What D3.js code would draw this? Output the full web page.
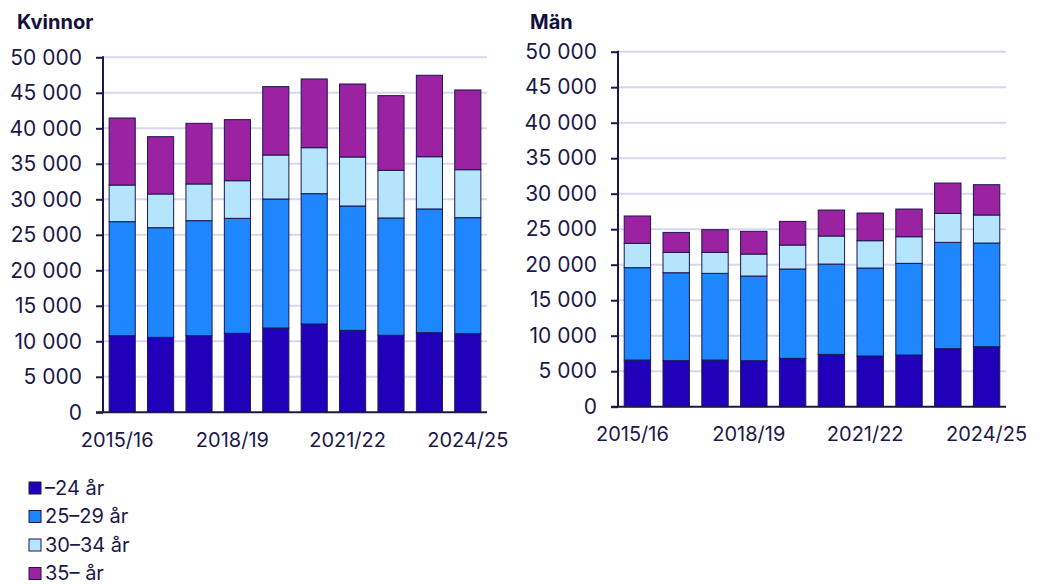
<!DOCTYPE html>
<html>
<head>
<meta charset="utf-8">
<script src="https://cdn.jsdelivr.net/npm/d3@7"></script>
<style>
  body { margin: 0; background: #fff; }
  text { font-family: Inter, "Noto Sans", sans-serif; fill: #1c1848; }
</style>
</head>
<body>
<script>
const years = ["2015/16","2016/17","2017/18","2018/19","2019/20","2020/21","2021/22","2022/23","2023/24","2024/25"];
const tickYears = ["2015/16","2018/19","2021/22","2024/25"];
const groups = ["–24 år","25–29 år","30–34 år","35– år"];
const colors = ["#2000b8","#1e87ff","#b4e5fc","#9b22a0"];

// Kvinnor
const kv24 = [10790,10560,10790,11130,11870,12440,11550,10850,11210,11070];
const kv2529 = [16060,15440,16200,16190,18170,18350,17510,16520,17430,16340];
const kv3034 = [5160,4750,5170,5300,6200,6480,6900,6720,7360,6760];
const kv35 = [9440,8070,8540,8600,9630,9680,10280,10510,11470,11230];

// Män
const man24 = [6570,6480,6570,6480,6810,7370,7140,7280,8170,8450];
const man2529 = [13010,12390,12210,11920,12580,12720,12390,12910,14980,14600];
const man3034 = [3430,2870,2960,3100,3380,3950,3850,3750,4080,3950];
const man35 = [3850,2810,3190,3200,3330,3660,3900,3900,4270,4270];

const yTicks = [0,5000,10000,15000,20000,25000,30000,35000,40000,45000,50000];

const W = 1043, H = 584;
const svg = d3.select("body").append("svg").attr("width", W).attr("height", H);
const fmt = d3.formatLocale({decimal: ",", thousands: "\u00a0", grouping: [3], currency: ["", " kr"]}).format(",d");

function rows(a, b, c, d) {
  return years.map((y, i) => ({year: y, g0: a[i], g1: b[i], g2: c[i], g3: d[i]}));
}

function drawChart(title, data, x0, x1, yTop, yBot, titleX, labelY) {
  const g = svg.append("g");
  const x = d3.scaleBand().domain(years).range([x0, x1]).paddingInner(0.32).paddingOuter(0.16);
  const y = d3.scaleLinear().domain([0, 50000]).range([yBot, yTop]);

  // gridlines
  g.append("g").selectAll("line").data(yTicks.slice(1)).join("line")
    .attr("x1", x0).attr("x2", x1)
    .attr("y1", d => y(d)).attr("y2", d => y(d))
    .attr("stroke", "#d6d6f0").attr("stroke-width", 2);

  const series = d3.stack().keys(["g0","g1","g2","g3"])(data);
  g.append("g").selectAll("g").data(series).join("g")
    .attr("fill", (d, i) => colors[i])
    .selectAll("rect").data(d => d).join("rect")
      .attr("x", d => x(d.data.year))
      .attr("width", x.bandwidth())
      .attr("y", d => y(d[1]))
      .attr("height", d => y(d[0]) - y(d[1]))
      .attr("stroke", "#1b1651").attr("stroke-width", 1);

  // y axis
  const ya = g.append("g").attr("transform", `translate(${x0},0)`)
    .call(d3.axisLeft(y).tickValues(yTicks).tickFormat(fmt).tickSize(7).tickPadding(14));
  ya.select(".domain").remove();
  ya.selectAll(".tick line").attr("stroke", "#1c1848").attr("stroke-width", 2);
  ya.selectAll(".tick text").attr("font-size", "21px").style("fill", "#1c1848");
  g.append("line").attr("x1", x0).attr("x2", x0).attr("y1", yTop - 1).attr("y2", yBot)
    .attr("stroke", "#1c1848").attr("stroke-width", 2);
  g.append("line").attr("x1", x0 - 7).attr("x2", x1).attr("y1", yBot).attr("y2", yBot)
    .attr("stroke", "#1c1848").attr("stroke-width", 2);

  // x labels
  g.append("g").selectAll("text").data(tickYears).join("text")
    .attr("x", d => x(d) + x.bandwidth() / 2)
    .attr("dx", (d, i) => i < tickYears.length - 1 ? -5 : 0)
    .attr("y", labelY)
    .attr("text-anchor", "middle")
    .attr("font-size", "20px")
    .text(d => d);

  g.append("text").attr("x", titleX).attr("y", 29)
    .attr("font-size", "20px").attr("font-weight", "bold")
    .style("fill", "#14103d").text(title);
}

drawChart("Kvinnor", rows(kv24, kv2529, kv3034, kv35), 103, 487, 57.3, 412.3, 17, 447);
drawChart("Män", rows(man24, man2529, man3034, man35), 618, 1006, 51.7, 406.7, 530, 441);

// legend
const leg = svg.append("g").selectAll("g").data(groups).join("g")
  .attr("transform", (d, i) => `translate(29,${482 + i * 28.5})`);
leg.append("rect").attr("width", 12).attr("height", 12)
  .attr("fill", (d, i) => colors[i]).attr("stroke", "#1b1651").attr("stroke-width", 1);
leg.append("text").attr("x", 16).attr("y", 12.5).attr("font-size", "20px").text(d => d);
</script>
</body>
</html>
